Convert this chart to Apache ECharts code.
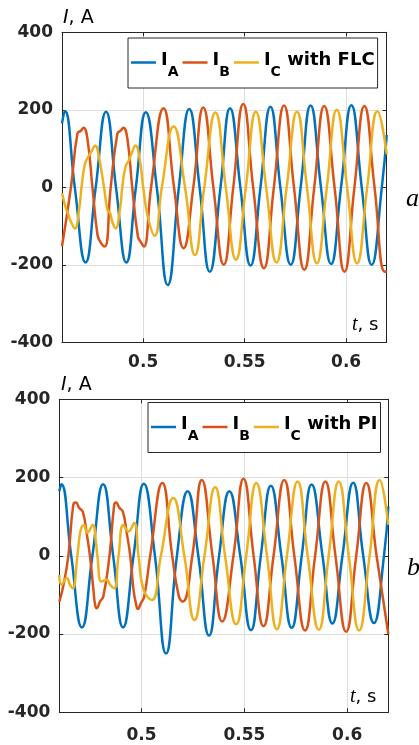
<!DOCTYPE html>
<html>
<head>
<meta charset="utf-8">
<script src="https://cdn.jsdelivr.net/npm/echarts@6/dist/echarts.min.js"></script>
<style>
  html, body { margin: 0; padding: 0; background: #fff; }
  #chart { width: 419px; height: 745px; }
</style>
</head>
<body>
<div id="chart"></div>
<script>
// Phase currents, fuzzy-logic controller (upper panel)
const tA_flc = [0.4600,0.4614,0.4663,0.4716,0.4766,0.4817,0.4866,0.4917,0.4964,0.5013,0.5067,0.5121,0.5176,0.5227,0.5278,0.5328,0.5381,0.5428,0.5479,0.5529,0.5578,0.5627,0.5676,0.5727,0.5776,0.5825,0.5876,0.5926,0.5975,0.6026,0.6077,0.6126,0.6176,0.6200];
const iA_flc = [165,197,0,-194,0,195,0,-194,0,194,0,-252,0,202,0,-218,0,204,0,-202,0,208,0,-200,0,211,0,-198,0,212,0,-200,0,135];

const tB_flc = [0.4600,0.4644,0.4676,0.4693,0.4706,0.4725,0.4750,0.4775,0.4788,0.4810,0.4840,0.4873,0.4889,0.4902,0.4922,0.4946,0.4974,0.4987,0.5003,0.5039,0.5100,0.5152,0.5199,0.5247,0.5296,0.5346,0.5397,0.5444,0.5493,0.5542,0.5595,0.5644,0.5694,0.5743,0.5794,0.5843,0.5892,0.5943,0.5992,0.6041,0.6090,0.6140,0.6190,0.6200];
const iB_flc = [-152,0,139,146,154,126,0,-123,-140,-153,0,139,146,154,126,0,-127,-140,-153,0,204,0,-157,0,206,0,-200,0,215,0,-209,0,211,0,-213,0,210,0,-218,0,210,0,-218,-216];

const tC_flc = [0.4600,0.4619,0.4627,0.4644,0.4663,0.4685,0.4696,0.4712,0.4725,0.4745,0.4763,0.4783,0.4807,0.4824,0.4837,0.4848,0.4864,0.4886,0.4897,0.4913,0.4930,0.4946,0.4962,0.4982,0.5000,0.5023,0.5056,0.5092,0.5150,0.5206,0.5255,0.5301,0.5356,0.5407,0.5457,0.5506,0.5555,0.5606,0.5657,0.5707,0.5758,0.5807,0.5856,0.5905,0.5954,0.6005,0.6054,0.6104,0.6155,0.6200];
const iC_flc = [-15,-54,-64,-89,-106,-54,0,58,75,92,108,75,0,-58,-67,-89,-106,-54,0,53,70,92,108,75,0,-76,-125,0,157,0,-175,0,193,0,-187,0,195,0,-194,0,195,0,-196,0,200,0,-196,0,196,85];

// Phase currents, PI controller (lower panel)
const tA_pi = [0.4600,0.4610,0.4658,0.4710,0.4761,0.4813,0.4862,0.4910,0.4961,0.5011,0.5065,0.5119,0.5172,0.5224,0.5276,0.5328,0.5377,0.5427,0.5480,0.5532,0.5580,0.5629,0.5680,0.5730,0.5779,0.5827,0.5880,0.5928,0.5977,0.6029,0.6078,0.6130,0.6179,0.6200];
const iA_pi = [165,183,0,-183,0,183,0,-183,0,184,0,-250,0,165,0,-204,0,165,0,-190,0,179,0,-184,0,182,0,-173,0,187,0,-172,0,126];

const tB_pi = [0.4600,0.4619,0.4644,0.4668,0.4681,0.4697,0.4714,0.4733,0.4749,0.4766,0.4774,0.4782,0.4798,0.4814,0.4844,0.4867,0.4876,0.4893,0.4909,0.4928,0.4945,0.4961,0.4974,0.4982,0.4997,0.5013,0.5042,0.5101,0.5149,0.5182,0.5200,0.5247,0.5293,0.5345,0.5392,0.5447,0.5496,0.5545,0.5593,0.5642,0.5694,0.5743,0.5795,0.5844,0.5894,0.5943,0.5995,0.6044,0.6093,0.6143,0.6200];
const iB_pi = [-117,-78,0,130,136,122,113,58,0,-87,-125,-134,-117,-104,0,130,136,122,113,58,0,-87,-125,-136,-121,-104,0,186,0,-105,-117,0,194,0,-168,0,197,0,-180,0,194,0,-191,0,190,0,-194,0,186,0,-200];

const tC_pi = [0.4600,0.4611,0.4636,0.4652,0.4665,0.4688,0.4704,0.4720,0.4736,0.4762,0.4779,0.4785,0.4806,0.4831,0.4847,0.4867,0.4888,0.4912,0.4936,0.4964,0.4985,0.5010,0.5050,0.5094,0.5154,0.5208,0.5257,0.5306,0.5358,0.5406,0.5460,0.5509,0.5558,0.5610,0.5658,0.5707,0.5759,0.5808,0.5862,0.5910,0.5959,0.6008,0.6058,0.6109,0.6158,0.6200];
const iC_pi = [-49,-74,-57,-74,-83,0,66,79,58,79,32,0,-66,-61,-74,-83,0,79,62,84,0,-87,-113,0,148,0,-164,0,175,0,-175,0,186,0,-188,0,190,0,-189,0,190,0,-191,0,194,79];

// Axis ranges and tick step
const tRange = [0.46, 0.62];
const iRange = [-400, 400];
const iStep = 200;

const colors = ['#0072BD', '#D95319', '#EDB120'];
const axisColor = '#262626';
const gridColor = '#dedede';
const sans = 'DejaVu Sans';

const legendLabels = {
  'I_A (FLC)': '{m|I}{s|A}',
  'I_B (FLC)': '{m|I}{s|B}',
  'I_C (FLC)': '{m|I}{s|C}{m| with FLC}',
  'I_A (PI)': '{m|I}{s|A}',
  'I_B (PI)': '{m|I}{s|B}',
  'I_C (PI)': '{m|I}{s|C}{m| with PI}'
};

function pairs(t, v) { return t.map((x, k) => [x, v[k]]); }

function xAxes(gridIndex, labelMargin) {
  return [
    {
      gridIndex, type: 'value', position: 'bottom', min: tRange[0], max: tRange[1], splitNumber: 3,
      axisLine: { show: true, onZero: false, lineStyle: { color: axisColor, width: 1 } },
      axisTick: { show: true, inside: true, length: 4, lineStyle: { color: axisColor } },
      axisLabel: { show: true, showMinLabel: false, showMaxLabel: false, margin: labelMargin,
        fontFamily: sans, fontWeight: 'bold', fontSize: 17, color: axisColor },
      splitLine: { show: true, lineStyle: { color: gridColor, width: 1 } }
    },
    {
      gridIndex, type: 'value', position: 'top', min: tRange[0], max: tRange[1], splitNumber: 3,
      axisLine: { show: true, onZero: false, lineStyle: { color: axisColor, width: 1 } },
      axisTick: { show: true, inside: true, length: 4, lineStyle: { color: axisColor } },
      axisLabel: { show: false },
      splitLine: { show: false }
    }
  ];
}

function yAxes(gridIndex) {
  return [
    {
      gridIndex, type: 'value', position: 'left', min: iRange[0], max: iRange[1], interval: iStep,
      axisLine: { show: true, onZero: false, lineStyle: { color: axisColor, width: 1 } },
      axisTick: { show: true, inside: true, length: 4, lineStyle: { color: axisColor } },
      axisLabel: { show: true, margin: 9, fontFamily: sans, fontWeight: 'bold', fontSize: 17, color: axisColor },
      splitLine: { show: true, lineStyle: { color: gridColor, width: 1 } }
    },
    {
      gridIndex, type: 'value', position: 'right', min: iRange[0], max: iRange[1], interval: iStep,
      axisLine: { show: true, onZero: false, lineStyle: { color: axisColor, width: 1 } },
      axisTick: { show: true, inside: true, length: 4, lineStyle: { color: axisColor } },
      axisLabel: { show: false },
      splitLine: { show: false }
    }
  ];
}

function lineSeries(name, t, v, color, xIdx, yIdx) {
  return {
    name, type: 'line', xAxisIndex: xIdx, yAxisIndex: yIdx,
    data: pairs(t, v), showSymbol: false, symbol: 'none', smooth: 0.5,
    lineStyle: { color, width: 2.5 }, itemStyle: { color },
    emphasis: { disabled: true }, animation: false, clip: true
  };
}

// Legend entries: bold "I" with a lowered subscript letter
const legendRich = {
  m: { fontFamily: sans, fontWeight: 'bold', fontSize: 18, color: '#000', padding: [0, 0, 5, 0] },
  s: { fontFamily: sans, fontWeight: 'bold', fontSize: 14, color: '#000', lineHeight: 14, padding: [19, 0, 0, 0] }
};

function legendFor(names, left, top) {
  return {
    data: names, left, top, orient: 'horizontal',
    icon: 'rect', itemWidth: 25, itemHeight: 2.5, itemGap: 4,
    padding: [8, 3, 9, 3],
    backgroundColor: '#fff', borderColor: axisColor, borderWidth: 1, borderRadius: 0,
    selectedMode: false,
    formatter: name => legendLabels[name],
    textStyle: { rich: legendRich, fontFamily: sans, fontWeight: 'bold', fontSize: 18, color: '#000' }
  };
}

function textMark(left, y, content, font, rich) {
  return {
    type: 'text', left, top: y, z: 100,
    style: { text: content, font, fill: '#000', rich }
  };
}

const axisNameRich = { i: { fontStyle: 'italic', fontFamily: sans, fontSize: 19 } };
const timeNameRich = { i: { fontStyle: 'italic', fontFamily: 'Liberation Serif', fontSize: 20 } };

const chart = echarts.init(document.getElementById('chart'), null, { renderer: 'canvas' });

chart.setOption({
  animation: false,
  backgroundColor: '#fff',
  grid: [
    { left: 62, right: 32.3, top: 32.3, bottom: 402.7, containLabel: false },
    { left: 59.3, right: 30.7, top: 399.3, bottom: 32.7, containLabel: false }
  ],
  xAxis: [...xAxes(0, 12), ...xAxes(1, 15)],
  yAxis: [...yAxes(0), ...yAxes(1)],
  legend: [
    legendFor(['I_A (FLC)', 'I_B (FLC)', 'I_C (FLC)'], 128, 38),
    legendFor(['I_A (PI)', 'I_B (PI)', 'I_C (PI)'], 148, 402.5)
  ],
  series: [
    lineSeries('I_A (FLC)', tA_flc, iA_flc, colors[0], 0, 0),
    lineSeries('I_B (FLC)', tB_flc, iB_flc, colors[1], 0, 0),
    lineSeries('I_C (FLC)', tC_flc, iC_flc, colors[2], 0, 0),
    lineSeries('I_A (PI)', tA_pi, iA_pi, colors[0], 2, 2),
    lineSeries('I_B (PI)', tB_pi, iB_pi, colors[1], 2, 2),
    lineSeries('I_C (PI)', tC_pi, iC_pi, colors[2], 2, 2)
  ],
  graphic: [
    textMark(63, 9, '{i|I}, A', '19px "DejaVu Sans"', axisNameRich),
    textMark(61, 376, '{i|I}, A', '19px "DejaVu Sans"', axisNameRich),
    textMark(352, 315, '{i|t}, s', '18px "DejaVu Sans"', timeNameRich),
    textMark(350, 687, '{i|t}, s', '18px "DejaVu Sans"', timeNameRich),
    textMark(406, 186, 'a', 'italic 26px "Liberation Serif"'),
    textMark(407, 555, 'b', 'italic 26px "Liberation Serif"')
  ]
});
</script>
</body>
</html>
